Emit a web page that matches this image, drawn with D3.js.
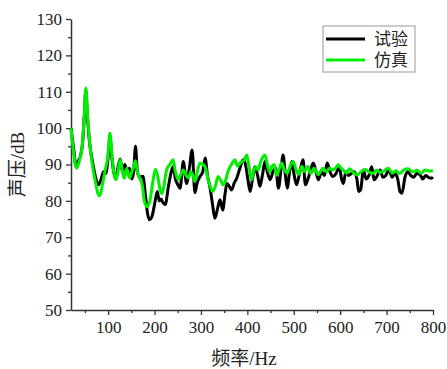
<!DOCTYPE html>
<html>
<head>
<meta charset="utf-8">
<script src="https://cdn.jsdelivr.net/npm/d3@7"></script>
<style>
  body { margin: 0; background: #fff; }
  text { font-family: "Liberation Serif", "Noto Sans CJK SC", serif; fill: #222; }
</style>
</head>
<body>
<svg id="chart" width="447" height="369"></svg>
<script>
// 试验 (measured) curve
let expFreq = [20, 26, 31, 36, 40, 45, 49, 52, 55, 60, 66, 72, 79, 85, 90, 95, 100, 104, 108, 112, 117, 121, 126, 131, 136, 141, 146, 151, 155, 159, 163, 168, 175, 180, 185, 189, 194, 200, 206, 210, 214, 218, 223, 230, 236, 240, 245, 250, 255, 262, 269, 275, 281, 287, 292, 298, 304, 309, 314, 319, 325, 330, 336, 341, 347, 352, 356, 361, 366, 372, 377, 384, 391, 396, 401, 406, 411, 416, 422, 427, 433, 438, 443, 449, 455, 461, 467, 472, 477, 482, 486, 491, 496, 501, 506, 513, 520, 525, 533, 542, 548, 553, 560, 566, 572, 578, 584, 591, 598, 603, 607, 612, 618, 624, 630, 636, 640, 644, 650, 656, 662, 668, 673, 680, 686, 692, 698, 705, 712, 718, 724, 729, 733, 740, 746, 752, 758, 765, 772, 778, 784, 790, 796, 800]
let expSpl = [100, 94, 89.4, 91, 92.2, 96, 104, 110.5, 104, 96, 91, 87, 84.4, 86, 88, 87.5, 92, 97.5, 92, 88, 86, 89, 91.5, 88, 90, 88, 89, 86, 88, 95, 88, 86.5, 86.8, 82, 76.5, 74.8, 75.5, 79, 82.6, 80, 80.5, 79.5, 79, 84, 88, 89.4, 86, 84.5, 83.5, 90.8, 84.8, 89, 94, 82.2, 85, 86.7, 88, 91.8, 87, 84, 79, 75.2, 78, 80.3, 77.5, 82, 84.8, 84, 83, 85, 86.2, 89, 91.3, 90, 86, 82.6, 86, 89.4, 87, 84, 87.5, 90.8, 88, 85.8, 88, 89, 83.5, 88, 92.6, 87, 83.5, 88, 90.8, 87, 84.4, 88, 91.3, 84.4, 87, 90.4, 88, 85.8, 88, 87, 90.4, 88, 86.7, 87.5, 89.4, 86, 84.8, 88, 87, 87.5, 88, 86, 82.6, 83, 88.5, 86, 87, 89.4, 85.8, 87, 88.5, 86.5, 87, 88.5, 86.5, 87.5, 86, 82.5, 82.1, 86.7, 88, 87, 86.5, 87.5, 87.2, 86, 87, 86.5, 86.2, 86.5]

// 仿真 (simulated) curve
let simFreq = [20, 25, 32, 38, 44, 48, 52, 56, 61, 67, 73, 78, 82, 87, 93, 99, 104, 108, 112, 117, 121, 126, 131, 135, 140, 146, 151, 155, 159, 163, 168, 174, 178, 184, 190, 196, 202, 208, 212, 216, 220, 226, 233, 240, 245, 251, 256, 262, 268, 273, 278, 283, 287, 292, 298, 304, 309, 315, 320, 325, 331, 337, 343, 348, 354, 358, 363, 368, 373, 379, 385, 392, 399, 404, 409, 413, 418, 423, 428, 433, 438, 443, 448, 453, 458, 463, 468, 474, 480, 486, 492, 499, 505, 511, 517, 523, 530, 537, 544, 553, 563, 570, 577, 584, 590, 596, 602, 608, 614, 620, 627, 636, 645, 655, 663, 672, 679, 686, 694, 704, 712, 720, 728, 737, 746, 757, 766, 774, 783, 792, 800]
let simSpl = [100, 94, 89, 91, 95, 102, 111, 103, 95, 89, 85, 82, 81.4, 84, 88, 92, 98.6, 93, 88, 85.8, 88, 91.3, 88, 86.2, 89, 86.3, 88, 89.4, 91, 88, 86.3, 84, 80, 78.4, 80, 85, 88.7, 86, 83, 82, 84, 88.5, 90, 91.3, 88, 85.8, 87, 88.5, 87, 86.3, 88, 87, 85.3, 88, 90.4, 90, 89.4, 86, 84, 82.6, 84, 86.7, 85.5, 84.4, 86, 88, 89.4, 90.5, 91.3, 89.5, 90.5, 91, 92.6, 89, 85.8, 88, 89.4, 88.5, 90.5, 92, 92.6, 90, 88, 89.5, 90, 87, 88.5, 90.4, 88.5, 87.6, 89.5, 90.8, 88.5, 87.3, 89.5, 88, 89.5, 87.5, 89, 87.2, 89, 88, 89, 88.5, 89, 89.9, 89, 88.3, 87.6, 88.8, 88, 87.1, 88, 88.6, 87.8, 87.6, 88.5, 87.8, 88.2, 89, 87.6, 88.3, 87.5, 88.5, 88.8, 88, 88.4, 87.6, 88.5, 88.2, 88.3]

let xTicks = [100, 200, 300, 400, 500, 600, 700, 800]
let yTicks = [50, 60, 70, 80, 90, 100, 110, 120, 130]
let legendNames = ["试验", "仿真"]

let svg = d3.select("#chart")

let plotLeft = 71, plotRight = 433, plotTop = 19, plotBottom = 310

let x = d3.scaleLinear().domain([20, 800]).range([plotLeft, plotRight])
let y = d3.scaleLinear().domain([50, 130]).range([plotBottom, plotTop])

// minor ticks first so the major ones sit on top
svg.append("g")
    .attr("transform", "translate(0," + plotBottom + ")")
    .call(d3.axisBottom(x).tickValues(d3.range(50, 800, 100)).tickSize(3).tickFormat(""))
    .call(g => g.select(".domain").remove())
    .selectAll("line").attr("stroke", "#333").attr("stroke-width", 1.3)

svg.append("g")
    .attr("transform", "translate(" + plotLeft + ",0)")
    .call(d3.axisLeft(y).tickValues(d3.range(55, 130, 10)).tickSize(3).tickFormat(""))
    .call(g => g.select(".domain").remove())
    .selectAll("line").attr("stroke", "#333").attr("stroke-width", 1.3)

let xAxis = svg.append("g")
    .attr("transform", "translate(0," + plotBottom + ")")
    .call(d3.axisBottom(x).tickValues(xTicks).tickSize(5).tickSizeOuter(0).tickPadding(6))
xAxis.selectAll("text").style("font-size", "17px").attr("font-family", null)

let yAxis = svg.append("g")
    .attr("transform", "translate(" + plotLeft + ",0)")
    .call(d3.axisLeft(y).tickValues(yTicks).tickSize(5).tickSizeOuter(0).tickPadding(4))
yAxis.selectAll("text").style("font-size", "17px").attr("font-family", null)

svg.selectAll(".domain").attr("stroke", "#333").attr("stroke-width", 1.5)
svg.selectAll(".tick line").attr("stroke", "#333").attr("stroke-width", 1.3)

// curves
let line = d3.line()
    .x(d => x(d[0]))
    .y(d => y(d[1]))
    .curve(d3.curveMonotoneX)

svg.append("path")
    .datum(d3.zip(expFreq, expSpl))
    .attr("fill", "none")
    .attr("stroke", "#000")
    .attr("stroke-width", 3)
    .attr("stroke-linejoin", "round")
    .attr("d", line)

svg.append("path")
    .datum(d3.zip(simFreq, simSpl))
    .attr("fill", "none")
    .attr("stroke", "#00ee00")
    .attr("stroke-width", 3)
    .attr("stroke-linejoin", "round")
    .attr("d", line)

// axis titles
svg.append("text")
    .attr("x", 244)
    .attr("y", 365)
    .attr("text-anchor", "middle")
    .style("font-size", "19px")
    .text("频率/Hz")

svg.append("text")
    .attr("transform", "translate(24," + ((plotTop + plotBottom) / 2) + ") rotate(-90)")
    .attr("text-anchor", "middle")
    .style("font-size", "19px")
    .text("声压/dB")

// legend
let legend = svg.append("g")
legend.append("rect")
    .attr("x", 323).attr("y", 26)
    .attr("width", 92).attr("height", 46)
    .attr("fill", "#fff")
    .attr("stroke", "#999")
    .attr("stroke-width", 1)

let legendColors = ["#000", "#00ee00"]
legendNames.forEach(function (name, i) {
    let ly = 39 + i * 21
    legend.append("line")
        .attr("x1", 326).attr("x2", 365)
        .attr("y1", ly).attr("y2", ly)
        .attr("stroke", legendColors[i])
        .attr("stroke-width", 3)
    legend.append("text")
        .attr("x", 374).attr("y", ly + 6)
        .style("font-size", "17px")
        .text(name)
})
</script>
</body>
</html>
